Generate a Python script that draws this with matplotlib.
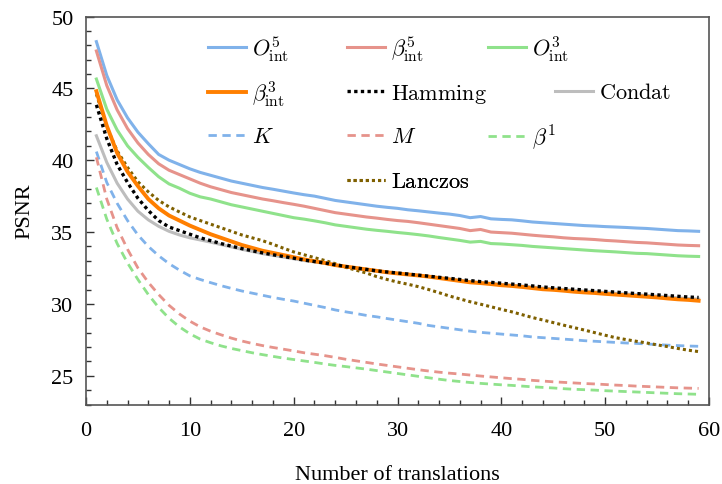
import matplotlib
matplotlib.use("Agg")
import matplotlib.pyplot as plt
import numpy as np

plt.rcParams['font.family'] = ['Liberation Serif', 'DejaVu Serif']
plt.rcParams['mathtext.fontset'] = 'cm'

# number of translations
n = list(range(1, 60))

o5_int = [48.25, 45.9, 44.2, 42.95, 41.95, 41.15, 40.4, 40.0, 39.7, 39.4,
          39.15, 38.95, 38.75, 38.55, 38.4, 38.25, 38.1, 37.98, 37.85, 37.72,
          37.6, 37.5, 37.35, 37.2, 37.1, 37.0, 36.9, 36.8, 36.72, 36.65,
          36.55, 36.48, 36.4, 36.32, 36.25, 36.15, 36.0, 36.08, 35.92, 35.88,
          35.85, 35.78, 35.7, 35.65, 35.6, 35.55, 35.5, 35.45, 35.42, 35.38,
          35.35, 35.32, 35.28, 35.25, 35.2, 35.15, 35.1, 35.08, 35.05]
b5_int = [47.6, 45.2, 43.5, 42.2, 41.2, 40.4, 39.75, 39.3, 39.0, 38.7,
          38.4, 38.15, 37.95, 37.75, 37.6, 37.45, 37.3, 37.18, 37.05, 36.93,
          36.8, 36.65, 36.5, 36.35, 36.25, 36.15, 36.05, 35.97, 35.88, 35.8,
          35.74, 35.65, 35.55, 35.45, 35.35, 35.25, 35.1, 35.18, 35.0, 34.96,
          34.92, 34.85, 34.78, 34.72, 34.67, 34.6, 34.55, 34.52, 34.48, 34.42,
          34.38, 34.33, 34.28, 34.25, 34.2, 34.15, 34.1, 34.07, 34.05]
o3_int = [45.65, 43.55, 42.1, 41.0, 40.2, 39.5, 38.85, 38.35, 38.05, 37.7,
          37.45, 37.3, 37.1, 36.9, 36.75, 36.6, 36.45, 36.3, 36.15, 36.0,
          35.9, 35.78, 35.65, 35.5, 35.4, 35.3, 35.2, 35.12, 35.05, 34.97,
          34.9, 34.82, 34.73, 34.62, 34.52, 34.42, 34.3, 34.35, 34.2, 34.17,
          34.12, 34.07, 34.0, 33.95, 33.9, 33.85, 33.8, 33.75, 33.7, 33.66,
          33.62, 33.57, 33.52, 33.5, 33.45, 33.4, 33.35, 33.32, 33.3]
b3_int = [44.8, 42.4, 40.5, 39.2, 38.2, 37.3, 36.65, 36.15, 35.8, 35.45,
          35.15, 34.85, 34.6, 34.35, 34.1, 33.9, 33.7, 33.55, 33.4, 33.25,
          33.1, 32.97, 32.85, 32.7, 32.6, 32.5, 32.4, 32.3, 32.2, 32.12,
          32.05, 31.98, 31.9, 31.8, 31.7, 31.6, 31.5, 31.45, 31.38, 31.3,
          31.25, 31.18, 31.1, 31.02, 30.98, 30.92, 30.85, 30.8, 30.76, 30.7,
          30.65, 30.6, 30.55, 30.5, 30.45, 30.38, 30.32, 30.28, 30.22]
hamming = [43.85, 41.5, 39.7, 38.45, 37.35, 36.5, 35.8, 35.35, 35.1, 34.85,
           34.6, 34.4, 34.2, 34.02, 33.85, 33.7, 33.55, 33.42, 33.3, 33.18,
           33.05, 32.95, 32.85, 32.72, 32.6, 32.5, 32.4, 32.3, 32.22, 32.15,
           32.08, 32.0, 31.93, 31.85, 31.78, 31.7, 31.62, 31.55, 31.5, 31.44,
           31.38, 31.32, 31.25, 31.18, 31.12, 31.07, 31.02, 30.97, 30.92, 30.87,
           30.82, 30.77, 30.72, 30.68, 30.63, 30.58, 30.53, 30.48, 30.45]
condat = [41.7, 39.85, 38.4, 37.3, 36.45, 35.85, 35.4, 35.05, 34.8, 34.6,
          34.45, 34.3, 34.13, 33.97, 33.8, 33.65, 33.5, 33.38, 33.26, 33.14,
          33.02, 32.92, 32.82, 32.7, 32.58, 32.48, 32.38, 32.28, 32.2, 32.12,
          32.05, 31.98, 31.9, 31.82, 31.73, 31.64, 31.55, 31.49, 31.43, 31.36,
          31.3, 31.24, 31.17, 31.1, 31.05, 31.0, 30.94, 30.89, 30.84, 30.79,
          30.74, 30.69, 30.64, 30.59, 30.54, 30.48, 30.42, 30.37, 30.33]
k_vals = [40.6, 38.45, 37.0, 35.8, 34.8, 34.0, 33.35, 32.8, 32.35, 31.95,
          31.7, 31.48, 31.27, 31.08, 30.9, 30.75, 30.6, 30.45, 30.32, 30.2,
          30.05, 29.9, 29.75, 29.58, 29.45, 29.33, 29.2, 29.1, 28.98, 28.87,
          28.76, 28.65, 28.5, 28.4, 28.3, 28.2, 28.1, 28.02, 27.96, 27.9,
          27.84, 27.78, 27.7, 27.65, 27.6, 27.55, 27.5, 27.44, 27.4, 27.36,
          27.32, 27.28, 27.25, 27.21, 27.17, 27.13, 27.1, 27.07, 27.05]
m_vals = [40.2, 37.3, 35.3, 33.8, 32.5, 31.5, 30.65, 29.9, 29.3, 28.8,
          28.4, 28.1, 27.85, 27.62, 27.42, 27.25, 27.1, 26.97, 26.85, 26.73,
          26.6, 26.5, 26.4, 26.28, 26.15, 26.04, 25.93, 25.82, 25.72, 25.62,
          25.52, 25.42, 25.33, 25.25, 25.18, 25.12, 25.05, 24.98, 24.92, 24.86,
          24.8, 24.75, 24.68, 24.63, 24.58, 24.54, 24.5, 24.46, 24.43, 24.39,
          24.35, 24.32, 24.28, 24.25, 24.22, 24.19, 24.16, 24.14, 24.12]
b1_vals = [38.1, 35.9, 34.2, 32.85, 31.7, 30.65, 29.75, 29.0, 28.4, 27.92,
           27.55, 27.3, 27.08, 26.9, 26.75, 26.6, 26.47, 26.35, 26.23, 26.13,
           26.03, 25.93, 25.82, 25.72, 25.64, 25.55, 25.46, 25.36, 25.26, 25.16,
           25.06, 24.96, 24.86, 24.76, 24.67, 24.6, 24.53, 24.47, 24.42, 24.37,
           24.33, 24.28, 24.23, 24.19, 24.15, 24.1, 24.06, 24.03, 24.0, 23.96,
           23.93, 23.9, 23.87, 23.84, 23.81, 23.78, 23.75, 23.73, 23.71]
lanczos = [44.6, 42.3, 40.65, 39.5, 38.5, 37.8, 37.2, 36.75, 36.4, 36.05,
           35.8, 35.55, 35.3, 35.05, 34.8, 34.6, 34.4, 34.15, 33.88, 33.62,
           33.42, 33.22, 33.02, 32.8, 32.55, 32.35, 32.15, 31.9, 31.7, 31.52,
           31.37, 31.2, 31.0, 30.78, 30.55, 30.35, 30.15, 29.98, 29.8, 29.62,
           29.45, 29.25, 29.05, 28.88, 28.7, 28.52, 28.35, 28.18, 28.0, 27.82,
           27.65, 27.52, 27.4, 27.28, 27.15, 27.03, 26.9, 26.78, 26.68]

labels = [r'$O^5_{\mathrm{int}}$', r'$\beta^5_{\mathrm{int}}$', r'$O^3_{\mathrm{int}}$',
          r'$\beta^3_{\mathrm{int}}$', r'$\mathrm{Hamming}$', r'$\mathrm{Condat}$',
          r'$K$', r'$M$', r'$\beta^1$', r'$\mathrm{Lanczos}$']

W, H = 722, 485
fig = plt.figure(figsize=(W / 100, H / 100), dpi=100)
ax = fig.add_axes([86 / W, 1 - 405.5 / H, 623 / W, 388 / H])

blue = '#80b2ea'
red = '#e6938b'
green = '#8fe28b'
dash = (0, (3, 2))
dot = (0, (1, 1))

l_condat, = ax.plot(n, condat, color='#bdbdbd', lw=2.2, zorder=2)
l_o5, = ax.plot(n, o5_int, color=blue, lw=2.2, zorder=3)
l_b5, = ax.plot(n, b5_int, color=red, lw=2.2, zorder=3)
l_o3, = ax.plot(n, o3_int, color=green, lw=2.2, zorder=3)
l_k, = ax.plot(n, k_vals, color=blue, lw=2.0, ls=dash, zorder=3)
l_m, = ax.plot(n, m_vals, color=red, lw=2.0, ls=dash, zorder=3)
l_b1, = ax.plot(n, b1_vals, color=green, lw=2.0, ls=dash, zorder=3)
l_lan, = ax.plot(n, lanczos, color='#7f6000', lw=2.2, ls=dot, zorder=3)
l_b3, = ax.plot(n, b3_int, color='#ff7f00', lw=2.8, zorder=4)
l_ham, = ax.plot(n, hamming, color='black', lw=2.4, ls=dot, zorder=5)

ax.set_xlim(0, 60)
ax.set_ylim(23, 50)
ax.set_xticks(np.arange(0, 61, 10))
ax.set_xticks(np.arange(0, 61, 2), minor=True)
ax.set_yticks(np.arange(25, 51, 5))
ax.set_yticks(np.arange(23, 51, 1), minor=True)
ax.tick_params(which='both', direction='in', top=False, right=False,
               labelsize=16, color='#333333', width=1)
ax.tick_params(which='major', length=6)
ax.tick_params(which='minor', length=3.5)
ax.tick_params(axis='x', which='major', pad=12)
ax.tick_params(axis='y', which='major', pad=9)
for s in ax.spines.values():
    s.set_color('#555555')
    s.set_linewidth(1.2)

ax.set_xlabel('Number of translations', fontsize=16, labelpad=18)
ax.set_ylabel('PSNR', fontsize=16, labelpad=12)

# legend entries placed like the original (pixel positions of each handle)
lines = [l_o5, l_b5, l_o3, l_b3, l_ham, l_condat, l_k, l_m, l_b1, l_lan]
spots = [(208, 49), (347, 49), (488, 49),
         (208, 94), (347, 94), (555, 94),
         (208, 138), (347, 138), (488, 138),
         (347, 183)]
for line, lab, (px, py) in zip(lines, labels, spots):
    leg = ax.legend([line], [lab], loc='center left',
                    bbox_to_anchor=(px / W, 1 - py / H),
                    bbox_transform=fig.transFigure, frameon=False,
                    fontsize=16, handlelength=1.7, handletextpad=0.3,
                    borderpad=0, borderaxespad=0)
    ax.add_artist(leg)

fig.savefig('out.png', dpi=100)
